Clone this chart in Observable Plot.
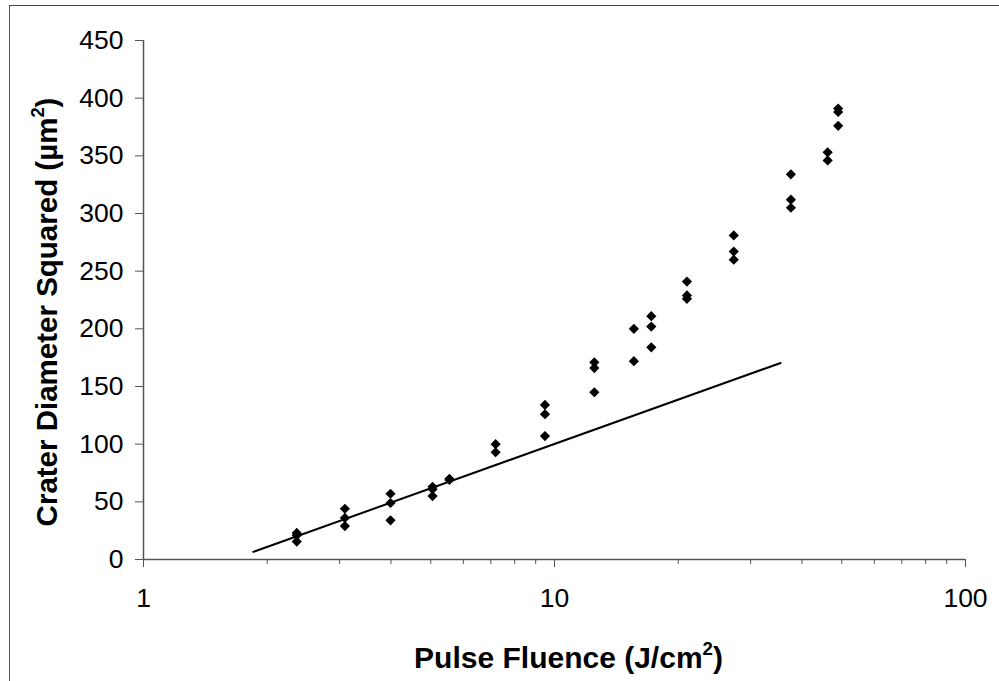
<!DOCTYPE html>
<html>
<head>
<meta charset="utf-8">
<script src="https://cdn.jsdelivr.net/npm/d3@7"></script>
<script src="https://cdn.jsdelivr.net/npm/@observablehq/plot@0.6"></script>
<style>
  html, body { margin: 0; padding: 0; background: #fff; }
  #wrap { position: relative; width: 999px; height: 681px; overflow: hidden; background: #fff; }
  #wrap .edge { position: absolute; left: 9px; top: 5px; width: 1200px; height: 900px;
                border-left: 1.5px solid #555; border-top: 1.5px solid #444; box-sizing: border-box; }
  #wrap svg { position: absolute; left: 0; top: 0; }
</style>
</head>
<body>
<div id="wrap"><div class="edge"></div></div>
<script>
// Measured crater size vs. laser pulse fluence (three shots per fluence level)
const fluence = [
  2.36, 2.36, 2.36,
  3.09, 3.09, 3.09,
  3.99, 3.99, 3.99,
  5.05, 5.05, 5.05,
  5.55, 5.55,
  7.19, 7.19,
  9.48, 9.48, 9.48,
  12.5, 12.5, 12.5,
  15.6, 15.6,
  17.2, 17.2, 17.2,
  21.0, 21.0, 21.0,
  27.3, 27.3, 27.3,
  37.6, 37.6, 37.6,
  46.2, 46.2,
  49.0, 49.0, 49.0
];
const diameterSquared = [
  23, 21, 15.5,
  44, 36, 29,
  57, 49, 34,
  63, 61, 55,
  70, 69,
  100, 93,
  134, 126, 107,
  171, 166, 145,
  200, 172,
  211, 202, 184,
  241, 229, 226,
  281, 267, 260,
  334, 312, 305,
  353, 346,
  391, 388, 376
];

// Logarithmic fit D² = a·ln(F/Fth) drawn over the low-fluence range
const fitFluence = [1.85, 35.5];
const fitDiameterSquared = [6.6, 170.4];

// Axis ticks
const yTicks = [0, 50, 100, 150, 200, 250, 300, 350, 400, 450];
const xMajorTicks = [1, 10, 100];
const xMinorTicks = [2, 3, 4, 5, 6, 7, 8, 9, 20, 30, 40, 50, 60, 70, 80, 90];

const xTitle = "Pulse Fluence (J/cm²)";
const yTitle = "Crater Diameter Squared (µm²)";

const points = fluence.map((f, i) => ({f, d2: diameterSquared[i]}));
const fit = fitFluence.map((f, i) => ({f, d2: fitDiameterSquared[i]}));

const axisColor = "#555";
const font = "'Liberation Sans', Arial, sans-serif";

const chart = Plot.plot({
  width: 999,
  height: 681,
  marginLeft: 143,
  marginRight: 34,
  marginTop: 40,
  marginBottom: 122,
  x: {type: "log", domain: [1, 100]},
  y: {domain: [0, 450]},
  style: {fontFamily: font, background: "transparent", color: "#000", overflow: "visible"},
  marks: [
    Plot.ruleY([0], {stroke: axisColor, strokeWidth: 1.5}),
    Plot.ruleX([1], {stroke: axisColor, strokeWidth: 1.5}),
    Plot.axisY({ticks: yTicks, tickSize: 8, tickPadding: 12, fontSize: 26.5, stroke: axisColor, label: null, tickFormat: d => String(d)}),
    Plot.axisX({ticks: xMinorTicks, tickSize: 5, stroke: axisColor, tickFormat: () => "", label: null}),
    Plot.axisX({ticks: xMajorTicks, tickSize: 8, tickPadding: 21, fontSize: 26.5, stroke: axisColor, label: null, tickFormat: d => String(d)}),
    Plot.line(fit, {x: "f", y: "d2", stroke: "#000", strokeWidth: 2}),
    Plot.dot(points, {x: "f", y: "d2", symbol: "diamond2", r: 4.6, fill: "#000", stroke: "none"}),
    Plot.text([xTitle], {frameAnchor: "bottom", dx: 14, dy: 99, fontSize: 30, fontWeight: "bold", text: d => d,
                         textAnchor: "middle", lineAnchor: "middle"}),
    Plot.text([yTitle], {frameAnchor: "left", dx: -96, dy: 12, rotate: -90, fontSize: 29.5, fontWeight: "bold", text: d => d,
                         textAnchor: "middle", lineAnchor: "middle"})
  ]
});

// Render the "²" in the unit labels as a raised, smaller superscript
chart.querySelectorAll("text").forEach(t => {
  const s = t.textContent;
  if (!s.includes("²")) return;
  const [before, after] = s.split("²");
  t.textContent = "";
  const ns = "http://www.w3.org/2000/svg";
  const a = document.createElementNS(ns, "tspan"); a.textContent = before; t.appendChild(a);
  const sup = document.createElementNS(ns, "tspan");
  sup.textContent = "2"; sup.setAttribute("font-size", "0.62em"); sup.setAttribute("dy", "-0.72em");
  t.appendChild(sup);
  const b = document.createElementNS(ns, "tspan"); b.textContent = after; b.setAttribute("dy", "0.45em");
  t.appendChild(b);
});

document.getElementById("wrap").appendChild(chart);
</script>
</body>
</html>
